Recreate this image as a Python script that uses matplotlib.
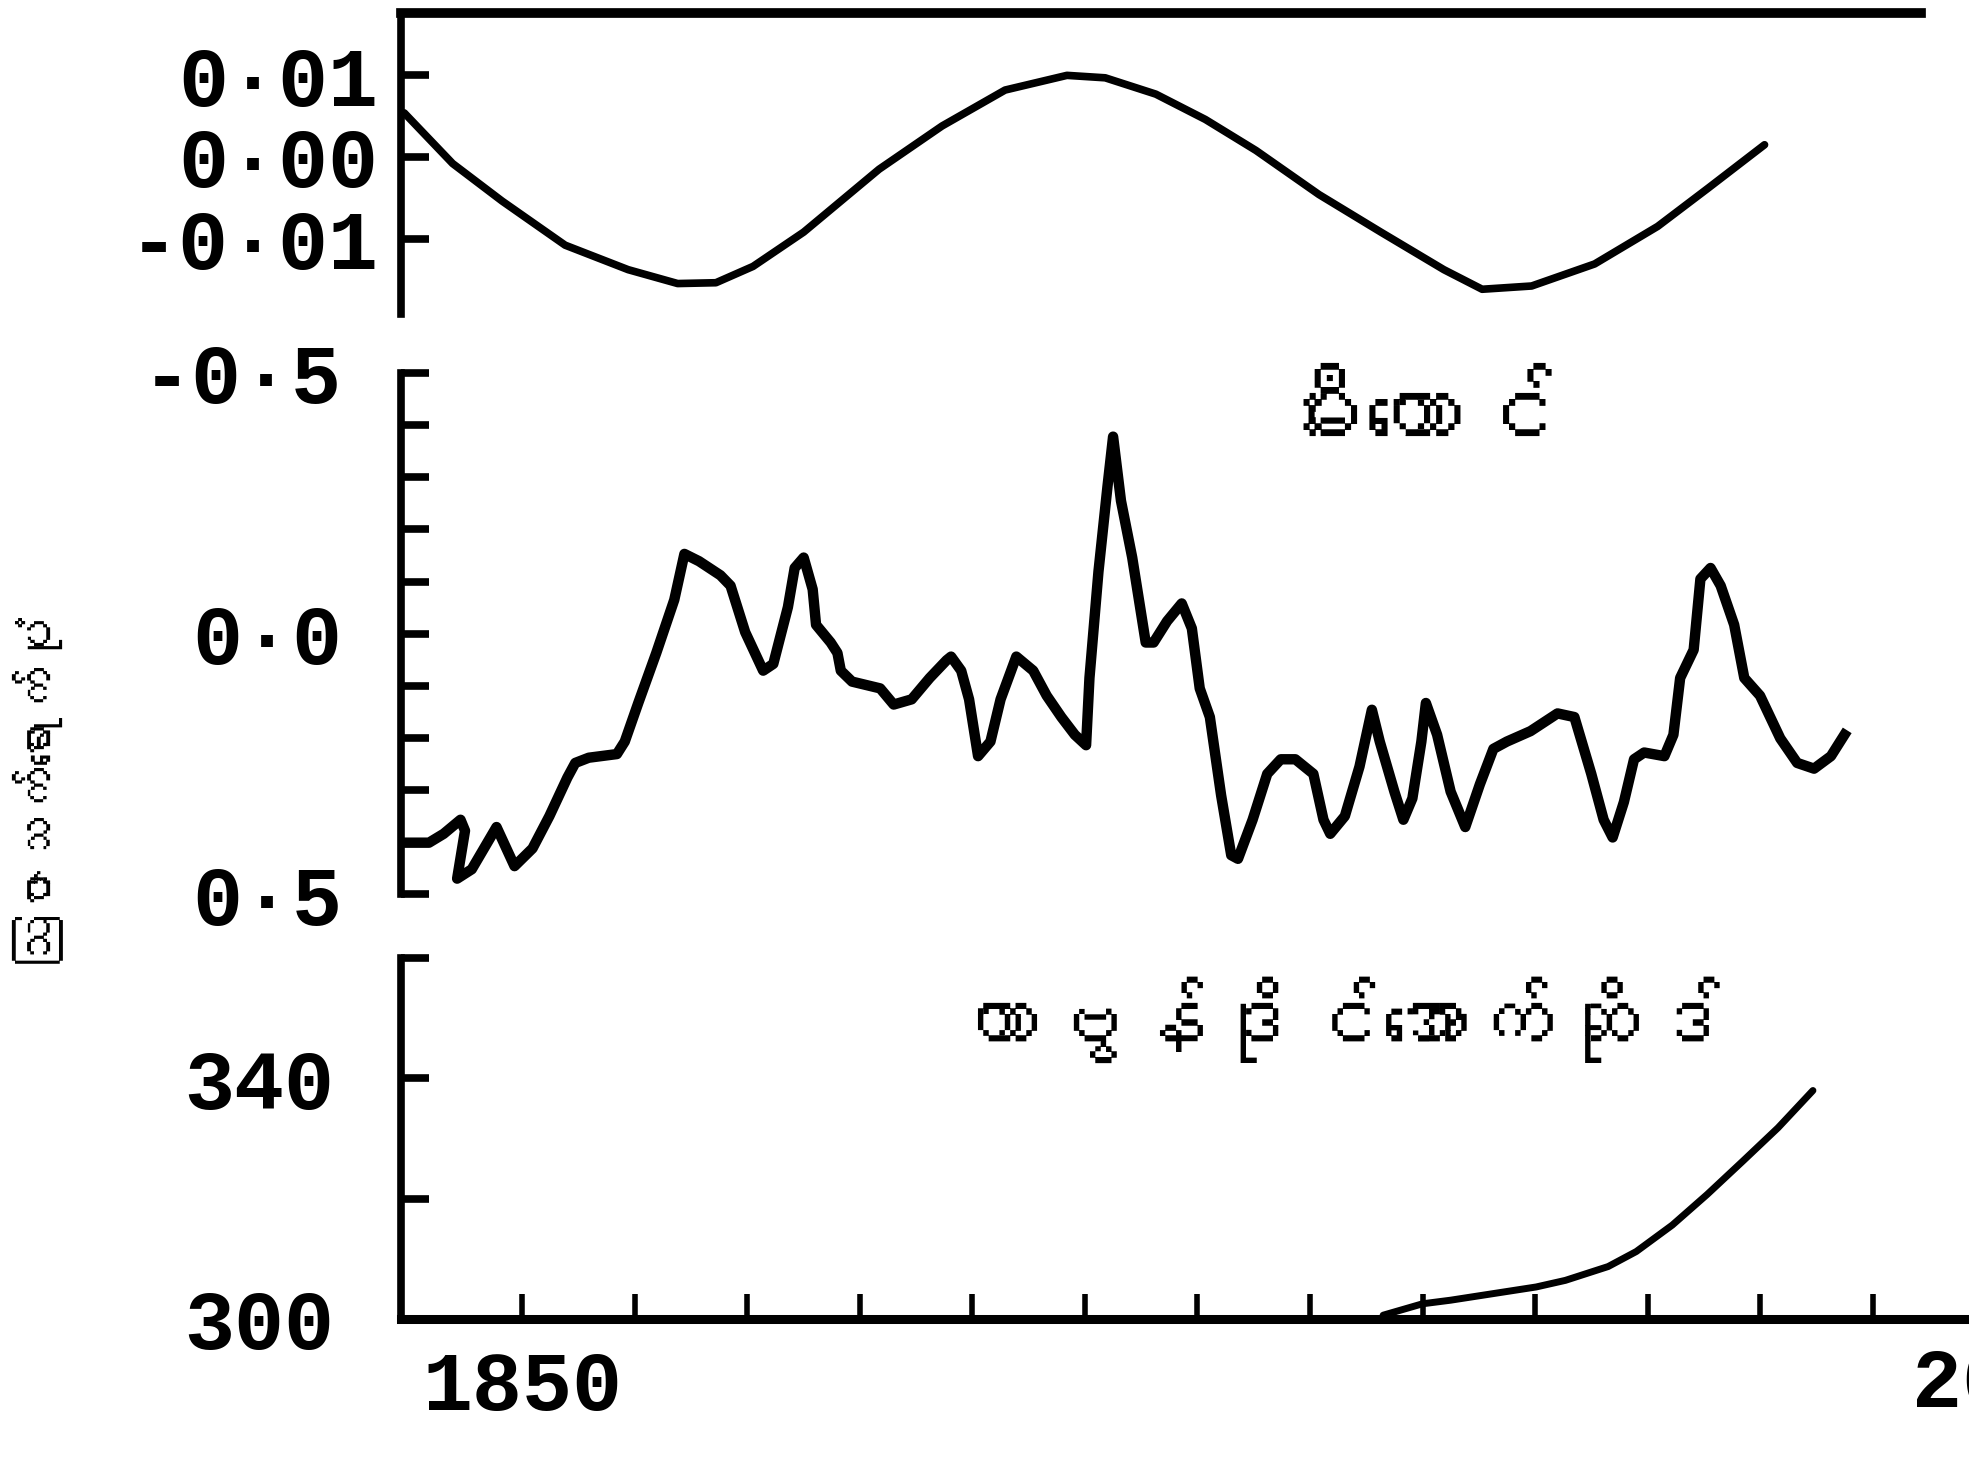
import numpy as np
import matplotlib
matplotlib.use("Agg")
import matplotlib.pyplot as plt
from matplotlib import font_manager, ft2font

# Datos (anio, valor)
sol_anio = [1839.5, 1843.8, 1848.2, 1853.8, 1859.4, 1863.8, 1867.2, 1870.5, 1875.0,
            1881.7, 1887.3, 1892.9, 1898.4, 1901.8, 1906.3, 1910.7, 1915.2, 1920.8,
            1926.3, 1931.9, 1935.3, 1939.7, 1945.3, 1950.9, 1955.4, 1960.4]
sol_valor = [0.0054, -0.0008, -0.0054, -0.0108, -0.0138, -0.0155, -0.0154, -0.0134, -0.0092,
             -0.0015, 0.0038, 0.0082, 0.0100, 0.0097, 0.0077, 0.0046, 0.0008, -0.0046,
             -0.0092, -0.0138, -0.0162, -0.0158, -0.0131, -0.0085, -0.0038, 0.0015]

volcan_anio = [1839.5, 1841.7, 1843.0, 1844.5, 1844.9, 1844.2, 1845.5, 1847.7, 1849.3,
               1850.9, 1852.4, 1854.0, 1854.7, 1855.9, 1858.4, 1859.1, 1860.3, 1861.9,
               1863.5, 1864.4, 1865.7, 1867.6, 1868.5, 1869.8, 1871.4, 1872.3, 1873.6,
               1874.2, 1875.0, 1875.8, 1876.1, 1877.4, 1878.0, 1878.3, 1879.3, 1881.8,
               1883.0, 1884.6, 1886.2, 1887.7, 1888.1, 1889.0, 1889.7, 1890.5, 1891.6,
               1892.5, 1893.9, 1895.4, 1896.6, 1897.9, 1899.1, 1900.1, 1900.4, 1901.2,
               1902.0, 1902.5, 1903.2, 1904.2, 1905.4, 1906.1, 1907.3, 1908.6, 1909.5,
               1910.2, 1911.1, 1912.1, 1913.0, 1913.6, 1914.9, 1916.2, 1917.4, 1918.7,
               1920.3, 1921.2, 1921.8, 1923.1, 1924.4, 1925.5, 1926.2, 1927.5, 1928.3,
               1929.1, 1929.9, 1930.3, 1931.3, 1932.5, 1933.8, 1935.1, 1936.3, 1937.5,
               1939.6, 1942.0, 1943.5, 1945.0, 1946.1, 1946.9, 1947.9, 1948.8, 1949.7,
               1951.5, 1952.3, 1952.9, 1954.1, 1954.7, 1955.6, 1956.5, 1957.7, 1958.6,
               1960.0, 1961.8, 1963.3, 1964.8, 1966.3, 1967.5]
volcan_valor = [0.401, 0.401, 0.384, 0.357, 0.378, 0.470, 0.452, 0.371, 0.446,
                0.412, 0.350, 0.276, 0.248, 0.238, 0.231, 0.207, 0.133, 0.037,
                -0.065, -0.153, -0.139, -0.112, -0.092, -0.003, 0.071, 0.058, -0.051,
                -0.126, -0.146, -0.085, -0.017, 0.017, 0.037, 0.071, 0.092, 0.105,
                0.136, 0.126, 0.085, 0.051, 0.044, 0.071, 0.126, 0.235, 0.207,
                0.126, 0.044, 0.071, 0.119, 0.160, 0.194, 0.214, 0.085, -0.119,
                -0.282, -0.378, -0.255, -0.146, 0.017, 0.017, -0.024, -0.058, -0.010,
                0.105, 0.160, 0.310, 0.425, 0.432, 0.357, 0.269, 0.241, 0.241,
                0.269, 0.357, 0.384, 0.350, 0.255, 0.146, 0.207, 0.303, 0.357,
                0.316, 0.207, 0.133, 0.194, 0.303, 0.371, 0.289, 0.221, 0.207,
                0.187, 0.153, 0.160, 0.269, 0.357, 0.391, 0.323, 0.241, 0.228,
                0.235, 0.194, 0.085, 0.031, -0.105, -0.126, -0.092, -0.017, 0.085,
                0.119, 0.201, 0.248, 0.259, 0.235, 0.194]

co2_anio = [1926.5, 1930.0, 1932.5, 1936.3, 1940.1, 1942.7, 1946.5, 1949.0, 1952.2,
            1955.3, 1958.5, 1961.6, 1964.7]
co2_ppm = [300.6, 302.5, 303.1, 304.2, 305.3, 306.4, 308.7, 311.2, 315.6,
           320.7, 326.3, 331.8, 338.0]

sol_ticks = [0.01, 0.0, -0.01]
sol_etiquetas = ["0·01", "0·00", "-0·01"]
volcan_ticks = [-0.5, -0.4, -0.3, -0.2, -0.1, 0.0, 0.1, 0.2, 0.3, 0.4, 0.5]
volcan_etiquetas = ["-0·5", "", "", "", "", "0·0", "", "", "", "", "0·5"]
co2_ticks = [300, 320, 340, 360]
co2_etiquetas = ["300", "", "340", ""]
anio_ticks = [1850, 1860, 1870, 1880, 1890, 1900, 1910, 1920, 1930, 1940, 1950, 1960, 1970]
anio_etiquetas = ["1850"] + [""] * 12

texto_volcan = "မီးတောင်"
texto_co2 = "ကာဗွန်ဒိုင်အောက်ဆိုဒ်"
texto_y = "ဩဇာသက်ရောက်ပုံ"


def fuente_birmana():
    """Busca una fuente instalada con glifos birmanos."""
    for f in font_manager.fontManager.ttflist:
        try:
            if 0x1019 in ft2font.FT2Font(f.fname).get_charmap():
                return f.name
        except Exception:
            pass
    return None


mm = fuente_birmana()
familia_mm = [mm, "DejaVu Sans"] if mm else ["DejaVu Sans"]
num = dict(family="Liberation Mono", weight="bold", size=60)

# posiciones medidas sobre la imagen (1568 x 1164)
W, H = 1568.0, 1164.0
PX_ANIO, X1850 = 8.96, 416.0


def anio(px):
    return 1850 + (px - X1850) / PX_ANIO


def caja(x0, y0, x1, y1):
    return [x0 / W, 1 - y1 / H, (x1 - x0) / W, (y1 - y0) / H]


fig = plt.figure(figsize=(19.69, 14.62), dpi=100)

ax1 = fig.add_axes(caja(319, 10, 1530, 250))
ax2 = fig.add_axes(caja(319, 297, W, 712))
ax3 = fig.add_axes(caja(319, 763, W, 1050))

ax1.plot(sol_anio, sol_valor, color="black", lw=5.5, solid_capstyle="round",
         solid_joinstyle="round")
ax2.plot(volcan_anio, volcan_valor, color="black", lw=7.5, solid_joinstyle="round")
ax3.plot(co2_anio, co2_ppm, color="black", lw=5, solid_capstyle="round",
         solid_joinstyle="round")

ax1.set_xlim(anio(319), anio(1530))
ax1.set_ylim((125 - 250) / 6500.0, (125 - 10) / 6500.0)
ax2.set_xlim(anio(319), anio(W))
ax2.set_ylim(0.5, -0.5)
ax3.set_xlim(anio(319), anio(W))
ax3.set_ylim(300, 360)

for ax in (ax1, ax2, ax3):
    ax.patch.set_alpha(0)
    for s in ax.spines.values():
        s.set_visible(False)
    ax.spines["left"].set_visible(True)
    ax.spines["left"].set_linewidth(5.5)
    ax.tick_params(axis="y", direction="in", length=20, width=5.5)
    ax.set_xticks([])

ax1.spines["top"].set_visible(True)
ax1.spines["top"].set_linewidth(7)
ax3.spines["bottom"].set_visible(True)
ax3.spines["bottom"].set_linewidth(6.5)

ax1.set_yticks(sol_ticks)
ax1.set_yticklabels(sol_etiquetas, fontdict=num)
ax1.tick_params(axis="y", pad=16)
ax2.set_yticks(volcan_ticks)
ax2.set_yticklabels(volcan_etiquetas, fontdict=num)
ax2.tick_params(axis="y", pad=42)
ax3.set_yticks(co2_ticks)
ax3.set_yticklabels(co2_etiquetas, fontdict=num)
ax3.tick_params(axis="y", pad=48)

ax3.set_xticks(anio_ticks)
ax3.set_xticklabels(anio_etiquetas, fontdict=num)
ax3.tick_params(axis="x", direction="in", length=18, width=4, pad=22)
# la etiqueta 2000 queda cortada en el borde derecho, como en el original
fig.text(1523 / W, 1 - 1103 / H, "2000", ha="left", va="center", **num)

fig.text(1125 / W, 1 - 335 / H, texto_volcan, ha="center", va="center",
         family=familia_mm, fontsize=70, fontweight="bold")
fig.text(1065 / W, 1 - 812 / H, texto_co2, ha="center", va="center",
         family=familia_mm, fontsize=62, fontweight="bold")
fig.text(28 / W, 1 - 627 / H, texto_y, ha="center", va="center", rotation=90,
         family=familia_mm, fontsize=36, fontweight="bold")

fig.savefig("out.png", dpi=100)
plt.close(fig)
